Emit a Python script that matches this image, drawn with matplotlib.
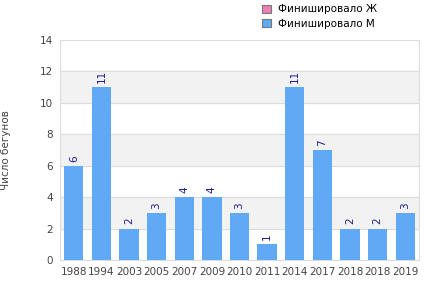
import matplotlib.pyplot as plt
from matplotlib.patches import Patch
import numpy as np

years = ['1988', '1994', '2003', '2005', '2007', '2009', '2010', '2011',
         '2014', '2017', '2018', '2018', '2019']
finished_m = [6, 11, 2, 3, 4, 4, 3, 1, 11, 7, 2, 2, 3]
finished_f = [0, 0, 0, 0, 0, 0, 0, 0, 0, 0, 0, 0, 0]

blue = '#60a9f4'
pink = '#ee7fb6'
grid_col = '#dddddd'

fig = plt.figure(figsize=(4.29, 3.0), dpi=100)
ax = fig.add_axes([60 / 429, 40 / 300, 359 / 429, 220 / 300])

x = np.arange(len(years))
ax.bar(x, finished_m, width=0.7, color=blue, zorder=3)
ax.bar(x, finished_f, width=0.7, bottom=finished_m, color=pink, zorder=3)

for xi, v in zip(x, finished_m):
    ax.annotate(str(v), (xi, v), xytext=(0, 3), textcoords='offset points',
                rotation=90, ha='center', va='bottom',
                fontsize=7.5, color='#1c1c96', zorder=4)

ax.set_xlim(-0.5, len(years) - 0.5)
ax.set_ylim(0, 14)
ax.set_yticks(range(0, 15, 2))
for lo in (2, 6, 10):
    ax.axhspan(lo, lo + 2, color='#f2f2f2', zorder=0)
ax.yaxis.grid(True, color=grid_col, linewidth=0.8, zorder=1)
ax.set_axisbelow(True)

ax.set_xticks(x)
ax.set_xticklabels(years)
ax.tick_params(axis='both', length=0, labelsize=7.5, colors='#444444', pad=5)
for s in ax.spines.values():
    s.set_color(grid_col)
ax.spines['top'].set_visible(False)

fig.text(1 / 429, 150 / 300, 'Число бегунов', rotation=90, ha='left', va='center',
         fontsize=7.5, color='#444444')

handles = [Patch(facecolor=pink, edgecolor='#777777', linewidth=0.8),
           Patch(facecolor=blue, edgecolor='#777777', linewidth=0.8)]
fig.legend(handles, ['Финишировало Ж', 'Финишировало М'], loc='upper left',
           bbox_to_anchor=(255 / 429, 1.01), frameon=False, fontsize=7.5,
           handlelength=0.8, handleheight=0.8, labelspacing=0.45,
           handletextpad=0.7, borderpad=0.2)

fig.savefig('out.png', dpi=100)
